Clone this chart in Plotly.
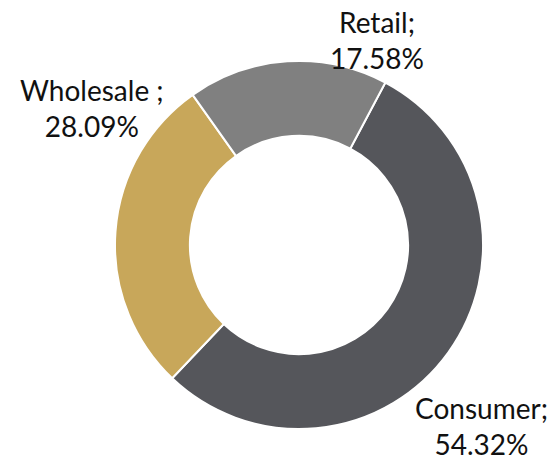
import plotly.graph_objects as go

# Data
categories = ["Consumer", "Wholesale", "Retail"]
label_names = ["Consumer;", "Wholesale ;", "Retail;"]
shares = [54.32, 28.09, 17.58]
colors = ["#55565b", "#c8a75a", "#808080"]

# page body has an 8px margin, so the figure is drawn 8px in
W, H = 548, 450
cx, cy, R = 291, 237, 184

# label centres in figure pixels (x, y from top)
label_px = {
    "Consumer": (473, 418),
    "Wholesale": (84, 100),
    "Retail": (369, 32),
}

fig = go.Figure(go.Pie(
    labels=categories,
    values=shares,
    hole=0.593,
    sort=False,
    direction="clockwise",
    rotation=28,
    marker=dict(colors=colors, line=dict(color="white", width=2)),
    textinfo="none",
    hoverinfo="label+percent",
    showlegend=False,
    domain=dict(x=[(cx - R) / W, (cx + R) / W],
                y=[(H - cy - R) / H, (H - cy + R) / H]),
))

for cat, name, v in zip(categories, label_names, shares):
    px, py = label_px[cat]
    fig.add_annotation(
        x=px / W, y=1 - py / H, xref="paper", yref="paper",
        text=f"{name}<br>{v:.2f}%",
        showarrow=False, xanchor="center", yanchor="middle",
        align="center",
        font=dict(family="Lato", size=28, color="#111111"),
    )

fig.update_layout(
    width=W, height=H,
    margin=dict(l=0, r=0, t=0, b=0),
    paper_bgcolor="white",
    plot_bgcolor="white",
)

fig.write_html("out.html")
